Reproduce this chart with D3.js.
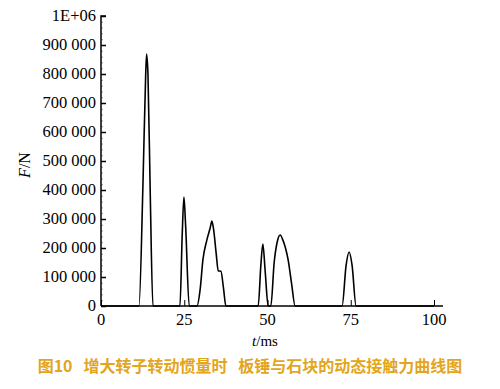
<!DOCTYPE html>
<html>
<head>
<meta charset="utf-8">
<script src="https://cdn.jsdelivr.net/npm/d3@7"></script>
<style>
  body { margin: 0; background: #fff; }
  svg { display: block; }
</style>
</head>
<body>
<div id="chart"></div>
<script>
// time (ms) and contact force (N)
var times = [0, 11.4, 12.6, 13.4, 13.7, 14.1, 14.8, 15.6,
  23.7, 24.4, 24.9, 25.4, 26.5,
  28.8, 29.8, 30.6, 31.8, 32.8, 33.3, 33.8, 34.6, 35.2, 36.0, 36.8, 37.5,
  47.2, 48.0, 48.6, 49.3, 50.2,
  51.0, 52.0, 53.0, 53.8, 54.6, 55.4, 56.2, 57.2, 58.3,
  72.4, 73.6, 74.5, 75.4, 76.6, 100];
var forces = [0, 0, 420000, 790000, 869000, 800000, 380000, 0,
  0, 250000, 376000, 280000, 0,
  0, 60000, 159000, 228000, 270000, 293000, 265000, 180000, 121000, 120000, 60000, 0,
  0, 140000, 214000, 120000, 0,
  0, 150000, 225000, 245000, 228000, 200000, 159000, 80000, 0,
  0, 140000, 186000, 140000, 0, 0];
var xTicks = [0, 25, 50, 75, 100];
var yTicks = [0, 100000, 200000, 300000, 400000, 500000, 600000, 700000, 800000, 900000, 1000000];

var width = 500, height = 389;
var mLeft = 101, mRight = 443, mTop = 16, mBottom = 306;

var svg = d3.select("#chart").append("svg")
    .attr("width", width)
    .attr("height", height);

var x = d3.scaleLinear().domain([0, 102.7]).range([mLeft, mRight]);
var y = d3.scaleLinear().domain([0, 1000000]).range([mBottom, mTop]);

var serif = "'Liberation Serif', 'DejaVu Serif', serif";

function fmt(d) {
    if (d === 0) return "0";
    if (d === 1000000) return "1E+06";
    return d3.format(",")(d).replace(/,/g, " ");
}

// minor y ticks
svg.append("g")
    .attr("transform", "translate(" + mLeft + ",0)")
    .call(d3.axisRight(y).tickValues(d3.range(20000, 1000000, 20000)).tickSize(2).tickFormat(""))
    .call(function(g) { g.select(".domain").remove(); })
    .selectAll(".tick line").attr("stroke", "#999");

// y axis, ticks pointing inward
var yAxis = svg.append("g")
    .attr("transform", "translate(" + mLeft + ",0)")
    .call(d3.axisRight(y).tickValues(yTicks).tickSize(5).tickFormat(""));
yAxis.select(".domain").attr("d", "M0," + mBottom + "V" + mTop + "h5").attr("stroke-width", 1.5);
yAxis.selectAll(".tick line").attr("stroke-width", 1.5);

svg.selectAll(".ylab")
    .data(yTicks)
    .enter().append("text")
    .attr("class", "ylab")
    .attr("x", 96)
    .attr("y", function(d) { return y(d) + 5; })
    .attr("text-anchor", "end")
    .attr("font-family", serif)
    .attr("font-size", 16.5)
    .text(fmt);

// x axis, ticks pointing up
var xAxis = svg.append("g")
    .attr("transform", "translate(0," + mBottom + ")")
    .call(d3.axisTop(x).tickValues(xTicks).tickSize(6).tickFormat(""));
xAxis.select(".domain").attr("d", "M" + mLeft + ",0H" + mRight).attr("stroke-width", 1.5);

svg.selectAll(".xlab")
    .data(xTicks)
    .enter().append("text")
    .attr("class", "xlab")
    .attr("x", function(d) { return x(d); })
    .attr("y", 325)
    .attr("text-anchor", "middle")
    .attr("font-family", serif)
    .attr("font-size", 16.5)
    .text(function(d) { return d; });

// the force curve
var line = d3.line()
    .x(function(d, i) { return x(times[i]); })
    .y(function(d) { return y(d); })
    .curve(d3.curveMonotoneX);

svg.append("path")
    .datum(forces)
    .attr("fill", "none")
    .attr("stroke", "#000")
    .attr("stroke-width", 1.6)
    .attr("d", line);

// axis titles
var yt = svg.append("text")
    .attr("transform", "translate(30,165) rotate(-90)")
    .attr("text-anchor", "middle")
    .attr("font-family", serif)
    .attr("font-size", 16);
yt.append("tspan").attr("font-style", "italic").text("F");
yt.append("tspan").text("/N");

var xt = svg.append("text")
    .attr("x", 265)
    .attr("y", 346)
    .attr("text-anchor", "middle")
    .attr("font-family", serif)
    .attr("font-size", 15);
xt.append("tspan").attr("font-style", "italic").text("t");
xt.append("tspan").text("/ms");

// caption
svg.append("text")
    .attr("x", 250)
    .attr("y", 372)
    .attr("text-anchor", "middle")
    .attr("font-family", "'Noto Sans CJK SC', sans-serif")
    .attr("font-weight", "bold")
    .attr("font-size", 16)
    .attr("fill", "#e3a51c")
    .style("white-space", "pre")
    .text("图10   增大转子转动惯量时   板锤与石块的动态接触力曲线图");
</script>
</body>
</html>
